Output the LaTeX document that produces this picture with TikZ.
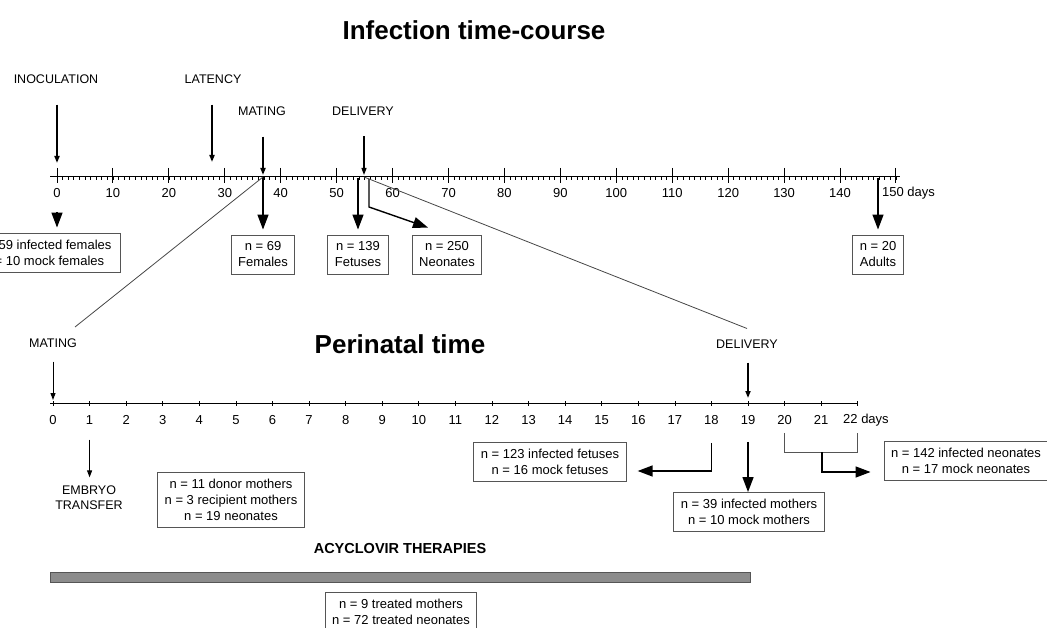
\documentclass[tikz,border=0pt]{standalone}
\usepackage{fontspec}
\setmainfont{Liberation Sans}
\usetikzlibrary{arrows.meta,positioning}
\definecolor{boxColor}{RGB}{85,85,85}
\definecolor{zoomColor}{RGB}{70,70,70}
\definecolor{barColor}{RGB}{140,140,140}
\tikzstyle{timeline} = [x = 1pt, y = -1pt]
\tikzstyle{titleText} = [font=\fontsize{26}{30}\selectfont\bfseries, inner sep=0pt]
\tikzstyle{therapyText} = [font=\fontsize{14.5}{17}\selectfont\bfseries, inner sep=0pt]
\tikzstyle{eventText} = [font=\fontsize{12.5}{15}\selectfont, inner sep=0pt, align=center]
\tikzstyle{dayText} = [font=\fontsize{13}{15}\selectfont, inner sep=0pt]
\tikzstyle{countBox} = [draw=boxColor, line width=0.9pt, align=center, font=\fontsize{13}{16}\selectfont, inner xsep=7pt, inner ysep=0pt, minimum height=39pt]
\tikzstyle{axisLine} = [line width=1pt]
\tikzstyle{minorTick} = [line width=0.7pt]
\tikzstyle{majorTick} = [line width=1pt]
\tikzstyle{eventArrow} = [-{Triangle[length=7pt,width=5pt]}, line width=1.8pt]
\tikzstyle{thinArrow} = [-{Triangle[length=7pt,width=5pt]}, line width=1pt]
\tikzstyle{countArrow} = [-{Triangle[length=15pt,width=11pt]}, line width=1.4pt]
\tikzstyle{bracketLine} = [color=boxColor, line width=1pt]
\tikzstyle{zoomLine} = [color=zoomColor, line width=0.8pt]
\tikzstyle{therapyBar} = [draw=boxColor, fill=barColor, line width=0.8pt, minimum width=700pt, minimum height=10pt, inner sep=0pt]
\newcommand{\courseDay}{5.593}
\newcommand{\periDay}{36.58}
\newcommand{\courseTicks}{
  \foreach \day in {0,...,150} {
    \draw [minorTick] (57 + \day * \courseDay, 177) -- + (0,3.5);
  }
  \foreach \day in {0,10,...,150} {
    \draw [majorTick] (57 + \day * \courseDay, 168) -- + (0,15);
  }
  \foreach \day in {0,10,...,140} {
    \node [dayText] (course\day) at (57 + \day * \courseDay, 193) {\day};
  }
}
\newcommand{\periTicks}{
  \foreach \day in {0,...,22} {
    \draw [minorTick] (53 + \day * \periDay, 401) -- + (0,5);
  }
  \foreach \day in {0,...,21} {
    \node [dayText] (peri\day) at (53 + \day * \periDay, 420) {\day};
  }
}

\begin{document}
\begin{tikzpicture}[timeline]
  \useasboundingbox (0,0) rectangle (1047,628);

  % infection time-course
  \node [titleText] (courseTitle) at (474,30) {Infection time-course};
  \draw [axisLine] (50,177) -- (900,177);
  \courseTicks
  \node [dayText, anchor=west] (course150) at (882,193) {150 days};

  \node [eventText] (inoculation) at (56,79) {INOCULATION};
  \node [eventText] (latency) at (213,79) {LATENCY};
  \node [eventText] (matingTop) at (262,111) {MATING};
  \node [eventText] (deliveryTop) at (363,111) {DELIVERY};

  \coordinate (inoculationDay) at (57,177);
  \coordinate (latencyDay) at (212,177);
  \coordinate (matingDay) at (263,177);
  \coordinate (deliveryDay) at (364,177);
  \coordinate (fetusesDay) at (358,178);
  \coordinate (neonatesDay) at (369,179);
  \coordinate (adultsDay) at (878,178);

  \draw [eventArrow, shorten <=21pt, shorten >=14pt] (inoculation.south -| inoculationDay) -- (inoculationDay);
  \draw [eventArrow, shorten <=21pt, shorten >=15pt] (latency.south -| latencyDay) -- (latencyDay);
  \draw [eventArrow, shorten <=21pt, shorten >=2pt] (matingTop.south -| matingDay) -- (matingDay);
  \draw [thinArrow, line width=1.2pt, shorten <=21pt, shorten >=2pt] (deliveryTop.south -| deliveryDay) -- (deliveryDay);

  \node [countBox, minimum width=152pt] (inoculationBox) at (44,252.5) {n = 59 infected females\\n = 10 mock females};
  \node [countBox] (femalesBox) at (263,254.5) {n = 69\\Females};
  \node [countBox] (fetusesBox) at (358,254.5) {n = 139\\Fetuses};
  \node [countBox] (neonatesBox) at (447,254.5) {n = 250\\Neonates};
  \node [countBox] (adultsBox) at (878,254.5) {n = 20\\Adults};

  \draw [countArrow, shorten <=14pt, shorten >=5pt] (course0.south) -- (course0.south |- inoculationBox.north);
  \draw [countArrow, shorten >=5pt] (matingDay) -- (femalesBox.north);
  \draw [countArrow, shorten >=5pt] (fetusesDay) -- (fetusesBox.north);
  \draw [countArrow] (neonatesDay) -- ++ (0,28) -- ([xshift=-19pt, yshift=7pt]neonatesBox.north);
  \draw [countArrow, shorten >=5pt] (adultsDay) -- (adultsBox.north);

  % perinatal time
  \node [eventText] (matingLow) at (53,343) {MATING};
  \node [titleText] (periTitle) at (400,344) {Perinatal time};
  \node [eventText] (deliveryLow) at (747,344) {DELIVERY};

  \coordinate (zoomLeft) at (75,327);
  \draw [zoomLine] (matingDay) -- (zoomLeft);
  \draw [zoomLine] (deliveryDay) -- ([yshift=11pt]deliveryLow.north);

  \draw [axisLine] (50,403) -- (858,403);
  \periTicks
  \node [dayText, anchor=west] (peri22) at (843,420) {22 days};

  \coordinate (periMating) at (53,403);
  \coordinate (periDelivery) at (748,403);
  \draw [thinArrow, shorten <=14pt, shorten >=3pt] (matingLow.south -| periMating) -- (periMating);
  \draw [thinArrow, line width=1.6pt, shorten <=14pt, shorten >=5pt] (deliveryLow.south -| periDelivery) -- (periDelivery);

  \node [eventText] (embryo) at (89,497.5) {EMBRYO\\TRANSFER};
  \draw [thinArrow, shorten <=15pt, shorten >=8pt] (peri1.south) -- (peri1.south |- embryo.north);

  \node [countBox, minimum height=55pt] (donorBox) at (231,499.5) {n = 11 donor mothers\\n = 3 recipient mothers\\n = 19 neonates};

  \node [countBox] (fetusBox) at (550,461.5) {n = 123 infected fetuses\\n = 16 mock fetuses};
  \node [countBox] (motherBox) at (749,512) {n = 39 infected mothers\\n = 10 mock mothers};
  \node [countBox] (neonateBox) at (966,460.5) {n = 142 infected neonates\\n = 17 mock neonates};

  \draw [countArrow] ([yshift=-18pt]peri18.south) |- ([xshift=11pt, yshift=-9.5pt]fetusBox.east);
  \draw [countArrow, shorten <=17pt] (peri19.south) -- (peri19.south |- motherBox.north);

  \coordinate (day22) at (857.8,433);
  \coordinate (bracketMid) at (822,452);
  \draw [bracketLine] ([yshift=-8pt]peri20.south) |- ([yshift=-19pt]day22) -- (day22);
  \draw [countArrow] (bracketMid) |- ([xshift=-13pt, yshift=-11.5pt]neonateBox.west);

  % acyclovir
  \node [therapyText] (therapyTitle) at (400,549) {ACYCLOVIR THERAPIES};
  \node [therapyBar] (therapy) at (400,577) {};
  \node [countBox] (treatedBox) at (401,611.5) {n = 9 treated mothers\\n = 72 treated neonates};
\end{tikzpicture}
\end{document}
